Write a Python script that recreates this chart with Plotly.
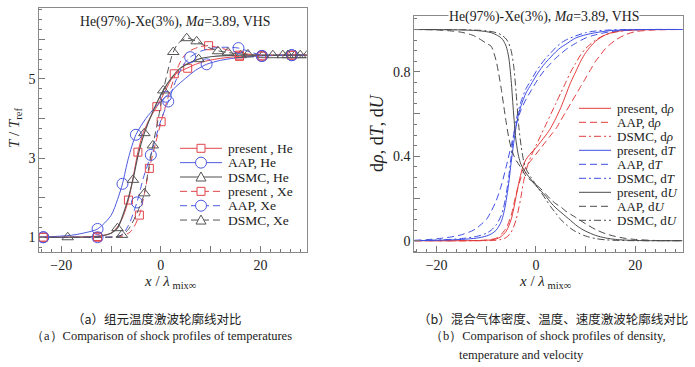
import plotly.graph_objects as go

W, H = 695, 367

# ---------------- panel (a): component temperature profiles ----------------
# smooth model curves (x / lambda_mix_inf , T / T_ref)
pres_he_x = [-24.4, -20, -15, -12.7, -10, -8.5, -7.5, -6.5, -5.5, -4.6, -3.5, -2, -0.8, 0.5, 1.5, 2.7, 4, 5.4, 7, 9, 12, 15.8, 20.3, 26.3, 29.4]
pres_he_y = [1.0, 1.0, 1.01, 1.03, 1.1, 1.3, 1.55, 1.94, 2.55, 3.15, 3.65, 4.05, 4.30, 4.6, 4.85, 5.1, 5.2, 5.28, 5.37, 5.45, 5.52, 5.57, 5.59, 5.6, 5.6]
pres_xe_x = [-24.4, -15, -12.7, -8, -6, -4.3, -3.3, -2.3, -1, 0.07, 1.5, 3, 4, 5, 6, 8, 9.6, 12, 15, 18, 20.3, 26.3, 29.4]
pres_xe_y = [1.0, 1.0, 1.0, 1.02, 1.15, 1.56, 2.1, 2.74, 3.4, 3.92, 4.55, 5.15, 5.45, 5.63, 5.72, 5.82, 5.84, 5.78, 5.68, 5.62, 5.6, 5.6, 5.6]
aap_he_x = [-24.4, -18, -15, -12.7, -10, -8.7, -7.7, -6.5, -5, -3, -1, 1, 3, 5, 7, 9.2, 12, 15, 20, 26, 29.4]
aap_he_y = [1.0, 1.05, 1.12, 1.21, 1.55, 1.95, 2.35, 3.0, 3.59, 4.0, 4.3, 4.55, 4.8, 5.02, 5.22, 5.37, 5.47, 5.53, 5.58, 5.6, 5.6]
aap_xe_x = [-24.4, -15, -12.7, -8, -6.5, -4.8, -3.5, -2, 0, 1.5, 3, 4.5, 5.9, 8, 10, 12.5, 15.6, 18, 20.3, 26.3, 29.4]
aap_xe_y = [1.0, 1.0, 1.0, 1.05, 1.3, 1.88, 2.5, 3.08, 3.95, 4.43, 4.95, 5.35, 5.55, 5.7, 5.77, 5.8, 5.78, 5.68, 5.6, 5.6, 5.6]
dsmc_he_x = [-24.4, -18.7, -12, -10, -8.7, -7.5, -6.5, -5.6, -4.5, -3.3, -1.5, 0.5, 2, 4, 6, 7.6, 10, 13, 16, 20, 29.4]
dsmc_he_y = [1.0, 1.0, 1.03, 1.1, 1.23, 1.6, 2.0, 2.45, 3.1, 3.63, 4.2, 4.71, 5.0, 5.28, 5.42, 5.5, 5.56, 5.59, 5.6, 5.6, 5.6]
dsmc_xe_x = [-24.4, -12, -9, -7.8, -6.5, -5, -4, -3.3, -2.5, -1.6, -0.5, 0.5, 1.5, 2.5, 3.5, 5.2, 7.2, 9.5, 11.2, 13.3, 16, 20, 29.4]
dsmc_xe_y = [1.0, 1.0, 1.01, 1.06, 1.2, 1.55, 1.85, 2.11, 2.7, 3.32, 4.0, 4.7, 5.25, 5.68, 5.9, 6.03, 5.95, 5.8, 5.72, 5.67, 5.63, 5.6, 5.6]

# symbols (sampled points)
pres_he_mx = [-23.6, -12.7, -6.5, -4.6, -0.8, 2.7, 5.4, 15.8, 20.3, 26.3]
pres_he_my = [1.0, 1.02, 1.94, 3.15, 4.30, 5.13, 5.27, 5.57, 5.58, 5.6]
pres_xe_mx = [-23.6, -12.7, -4.3, -2.3, 0.07, 9.6, 15.8, 20.3, 26.3]
pres_xe_my = [1.0, 1.0, 1.56, 2.74, 3.92, 5.84, 5.6, 5.58, 5.6]
aap_he_mx = [-23.6, -12.7, -7.7, -5.0, 1.0, 9.2, 20.3, 26.3]
aap_he_my = [1.0, 1.21, 2.35, 3.59, 4.55, 5.37, 5.58, 5.6]
aap_xe_mx = [-23.6, -12.7, -4.8, -2.0, 1.5, 5.9, 15.6, 20.3, 26.3]
aap_xe_my = [1.0, 1.0, 1.88, 3.08, 4.43, 5.55, 5.78, 5.58, 5.6]
dsmc_he_mx = [-18.7, -8.7, -5.6, -3.3, 0.5, 7.6, 16.0, 20.5, 24.5, 27.0, 29.4]
dsmc_he_my = [1.0, 1.23, 2.45, 3.63, 4.71, 5.5, 5.6, 5.6, 5.6, 5.6, 5.6]
dsmc_xe_mx = [-7.8, -3.3, -1.6, 2.5, 5.2, 7.2, 11.5, 13.5, 17.5, 22.5, 25.5, 28.0]
dsmc_xe_my = [1.06, 2.11, 3.32, 5.68, 6.03, 5.95, 5.7, 5.67, 5.62, 5.6, 5.6, 5.6]

# ---------------- panel (b): mixture density / temperature / velocity ----------------
drho_pres_x = [-24.5, -15, -10, -8, -7, -6, -5, -4.5, -4, -3.5, -3, -2.5, -2, -1, 0, 1, 2, 3, 4, 5, 6, 7, 8, 9, 10, 11, 12, 14, 16, 20, 29.5]
drho_pres_y = [0, 0, 0.002, 0.008, 0.02, 0.045, 0.1, 0.15, 0.21, 0.27, 0.32, 0.36, 0.385, 0.415, 0.44, 0.47, 0.5, 0.535, 0.58, 0.63, 0.69, 0.75, 0.8, 0.85, 0.89, 0.92, 0.945, 0.975, 0.99, 0.998, 1.0]
drho_aap_x = [-24.5, -15, -10, -8, -7, -6, -5, -4, -3, -2, -1, 0, 1, 2, 3, 4, 5, 6, 7, 8, 9, 10, 11, 12, 13, 14, 16, 18, 20, 24, 29.5]
drho_aap_y = [0, 0, 0.003, 0.012, 0.03, 0.06, 0.12, 0.22, 0.3, 0.35, 0.38, 0.41, 0.44, 0.47, 0.5, 0.53, 0.57, 0.61, 0.65, 0.69, 0.73, 0.77, 0.81, 0.85, 0.88, 0.91, 0.95, 0.975, 0.99, 0.998, 1.0]
drho_dsmc_x = [-24.5, -10, -8, -7, -6, -5, -4, -3.5, -3, -2.5, -2, -1.5, -1, 0, 1, 2, 3, 4, 5, 6, 7, 8, 9, 10, 12, 14, 17, 20, 29.5]
drho_dsmc_y = [0, 0, 0.002, 0.006, 0.015, 0.04, 0.1, 0.15, 0.21, 0.28, 0.33, 0.37, 0.4, 0.45, 0.5, 0.55, 0.6, 0.65, 0.7, 0.75, 0.8, 0.84, 0.88, 0.91, 0.95, 0.975, 0.992, 0.998, 1.0]
dT_pres_x = [-24.5, -20, -15, -12, -10, -9, -8, -7, -6.5, -6, -5.5, -5, -4.5, -4, -3.5, -3, -2, -1, 0, 1, 2, 3, 4, 5, 6, 8, 10, 12, 15, 18, 22, 29.5]
dT_pres_y = [0, 0.002, 0.006, 0.012, 0.022, 0.032, 0.05, 0.09, 0.13, 0.19, 0.27, 0.37, 0.46, 0.54, 0.6, 0.64, 0.7, 0.74, 0.78, 0.815, 0.845, 0.87, 0.895, 0.915, 0.93, 0.96, 0.975, 0.985, 0.995, 0.998, 1.0, 1.0]
dT_aap_x = [-24.5, -22, -20, -17, -15, -13, -12, -11, -10, -9, -8, -7, -6, -5, -4, -3, -2, -1, 0, 1, 2, 3, 4, 5, 6, 8, 10, 12, 15, 18, 22, 29.5]
dT_aap_y = [0.002, 0.005, 0.009, 0.018, 0.028, 0.045, 0.058, 0.078, 0.1, 0.14, 0.19, 0.26, 0.35, 0.45, 0.55, 0.62, 0.67, 0.71, 0.75, 0.785, 0.815, 0.84, 0.865, 0.885, 0.905, 0.935, 0.96, 0.975, 0.99, 0.997, 1.0, 1.0]
dT_dsmc_x = [-24.5, -20, -15, -12, -10, -9, -8, -7, -6.5, -6, -5.5, -5, -4.5, -4, -3.5, -3, -2, -1, 0, 1, 2, 3, 4, 5, 6, 8, 10, 12, 15, 18, 22, 29.5]
dT_dsmc_y = [0, 0.003, 0.01, 0.02, 0.035, 0.05, 0.075, 0.12, 0.16, 0.22, 0.3, 0.4, 0.5, 0.57, 0.62, 0.66, 0.72, 0.76, 0.8, 0.835, 0.865, 0.89, 0.915, 0.935, 0.95, 0.97, 0.985, 0.993, 0.998, 1.0, 1.0, 1.0]
dU_pres_x = [-24.5, -15, -12, -10, -9, -8, -7, -6.5, -6, -5.5, -5, -4.5, -4, -3.5, -3, -2, -1, 0, 1, 2, 3, 4, 5, 6, 7, 8, 9, 10, 12, 14, 16, 20, 24, 29.5]
dU_pres_y = [1.0, 0.998, 0.995, 0.99, 0.985, 0.975, 0.96, 0.945, 0.92, 0.87, 0.76, 0.6, 0.47, 0.4, 0.36, 0.32, 0.29, 0.26, 0.235, 0.21, 0.18, 0.155, 0.135, 0.115, 0.095, 0.075, 0.058, 0.045, 0.025, 0.013, 0.006, 0.001, 0, 0]
dU_aap_x = [-24.5, -20, -17, -15, -13, -12, -11, -10, -9, -8.5, -8, -7.5, -7, -6.5, -6, -5.5, -5, -4.5, -4, -3, -2, -1, 0, 1, 2, 3, 4, 5, 6, 8, 10, 12, 14, 16, 18, 20, 24, 29.5]
dU_aap_y = [1.0, 0.998, 0.993, 0.987, 0.975, 0.965, 0.95, 0.935, 0.92, 0.89, 0.85, 0.79, 0.72, 0.64, 0.56, 0.49, 0.44, 0.405, 0.38, 0.345, 0.305, 0.285, 0.265, 0.245, 0.22, 0.195, 0.175, 0.16, 0.14, 0.11, 0.08, 0.053, 0.033, 0.02, 0.011, 0.006, 0.001, 0]
dU_dsmc_x = [-24.5, -15, -12, -10, -8, -7, -6, -5.5, -5, -4.5, -4, -3.5, -3, -2.5, -2, -1, 0, 1, 2, 3, 4, 5, 6, 7, 8, 10, 12, 14, 17, 20, 29.5]
dU_dsmc_y = [1.0, 0.999, 0.997, 0.994, 0.985, 0.975, 0.955, 0.935, 0.9, 0.83, 0.7, 0.55, 0.45, 0.38, 0.34, 0.3, 0.265, 0.23, 0.195, 0.16, 0.13, 0.1, 0.078, 0.058, 0.043, 0.022, 0.01, 0.004, 0.001, 0, 0]

# tick labels
xa_tickvals = [-20, -10, 0, 10, 20]
xa_ticktext = ["\u221220", "", "0", "", "20"]
ya_tickvals = [1, 2, 3, 4, 5, 6]
ya_ticktext = ["1", "", "3", "", "5", ""]
yb_tickvals = [0, 0.2, 0.4, 0.6, 0.8, 1.0]
yb_ticktext = ["0", "", "0.4", "", "0.8", ""]

legend_a = ["present , He", "AAP, He", "DSMC, He", "present , Xe", "AAP, Xe", "DSMC, Xe"]
legend_b = ["present, d<i>ρ</i>", "AAP, d<i>ρ</i>", "DSMC, d<i>ρ</i>",
            "present, d<i>T</i>", "AAP, d<i>T</i>", "DSMC, d<i>T</i>",
            "present, d<i>U</i>", "AAP, d<i>U</i>", "DSMC, d<i>U</i>"]

# ---------------- styling ----------------
RED = "#e2454b"
BLUE = "#4d5ae0"
BLK = "#555555"
RED_B = "#e23c3c"
BLUE_B = "#3e4ee2"
BLK_B = "#4a4a4a"
SERIF = "Liberation Serif"
DASH = "7px,4px"
DASHDOT = "7px,3px,2px,3px"

fig = go.Figure()

series_a = [
    (pres_he_x, pres_he_y, pres_he_mx, pres_he_my, RED, "solid", "square-open", 8, 1.0),
    (aap_he_x, aap_he_y, aap_he_mx, aap_he_my, BLUE, "solid", "circle-open", 11, 1.0),
    (dsmc_he_x, dsmc_he_y, dsmc_he_mx, dsmc_he_my, BLK, "solid", "triangle-up-open", 10, 1.2),
    (pres_xe_x, pres_xe_y, pres_xe_mx, pres_xe_my, RED, DASH, "square-open", 8, 1.0),
    (aap_xe_x, aap_xe_y, aap_xe_mx, aap_xe_my, BLUE, DASH, "circle-open", 11, 1.0),
    (dsmc_xe_x, dsmc_xe_y, dsmc_xe_mx, dsmc_xe_my, BLK, DASH, "triangle-up-open", 10, 1.0),
]
for lx, ly, mx, my, col, dash, sym, size, lw in series_a:
    fig.add_trace(go.Scatter(x=lx, y=ly, mode="lines", xaxis="x", yaxis="y",
                             line=dict(color=col, width=lw, dash=dash, shape="spline", smoothing=0.8),
                             showlegend=False, hoverinfo="skip"))
    fig.add_trace(go.Scatter(x=mx, y=my, mode="markers", xaxis="x", yaxis="y",
                             marker=dict(symbol=sym, size=size, color=col, line=dict(width=1, color=col)),
                             showlegend=False))

series_b = [
    (drho_pres_x, drho_pres_y, RED_B, "solid"),
    (drho_aap_x, drho_aap_y, RED_B, DASH),
    (drho_dsmc_x, drho_dsmc_y, RED_B, DASHDOT),
    (dT_pres_x, dT_pres_y, BLUE_B, "solid"),
    (dT_aap_x, dT_aap_y, BLUE_B, DASH),
    (dT_dsmc_x, dT_dsmc_y, BLUE_B, DASHDOT),
    (dU_pres_x, dU_pres_y, BLK_B, "solid"),
    (dU_aap_x, dU_aap_y, BLK_B, DASH),
    (dU_dsmc_x, dU_dsmc_y, BLK_B, DASHDOT),
]
for lx, ly, col, dash in series_b:
    fig.add_trace(go.Scatter(x=lx, y=ly, mode="lines", xaxis="x2", yaxis="y2",
                             line=dict(color=col, width=1, dash=dash, shape="spline", smoothing=0.8),
                             showlegend=False))


def px(x):
    return x / W


def py(y):
    return 1 - y / H


AX = dict(showgrid=False, zeroline=False, showline=True, linecolor="#8a8a8a", linewidth=1,
          mirror=True, ticks="inside", ticklen=6, tickcolor="#777", tickwidth=1,
          tickfont=dict(family=SERIF, size=14, color="#222"))

fig.update_layout(
    width=W, height=H, margin=dict(l=0, r=0, t=0, b=0),
    paper_bgcolor="white", plot_bgcolor="white", showlegend=False,
    xaxis=dict(AX, domain=[px(39.3), px(306.7)], range=[-24.4, 29.3], anchor="y",
               tickmode="array", tickvals=xa_tickvals, ticktext=xa_ticktext,
               minor=dict(dtick=2, tick0=0, ticks="inside", ticklen=3, tickcolor="#777")),
    yaxis=dict(AX, domain=[py(252.3), py(7.7)], range=[0.62, 6.80], anchor="x",
               tickmode="array", tickvals=ya_tickvals, ticktext=ya_ticktext,
               minor=dict(dtick=0.25, tick0=0, ticks="inside", ticklen=3, tickcolor="#777")),
    xaxis2=dict(AX, domain=[px(414.3), px(682.5)], range=[-24.5, 29.5], anchor="y2",
                tickmode="array", tickvals=xa_tickvals, ticktext=xa_ticktext,
                minor=dict(dtick=2, tick0=0, ticks="inside", ticklen=3, tickcolor="#777")),
    yaxis2=dict(AX, domain=[py(252.3), py(16)], range=[-0.055, 1.064], anchor="x2",
                tickmode="array", tickvals=yb_tickvals, ticktext=yb_ticktext,
                minor=dict(dtick=0.05, tick0=0, ticks="inside", ticklen=3, tickcolor="#777")),
)

ann = []
shapes = []
TXT = dict(family=SERIF, size=14, color="#222")


def note(x, y, text, font, xanchor="center", **kw):
    d = dict(x=px(x), y=py(y), xref="paper", yref="paper", showarrow=False,
             xanchor=xanchor, yanchor="middle", text=text, font=font)
    d.update(kw)
    ann.append(d)


# titles inside panels
note(175, 21.5, "He(97%)\u2011Xe(3%), <i>Ma</i>=3.89, VHS", dict(TXT, size=13.8))
note(544, 16.5, "He(97%)\u2011Xe(3%), <i>Ma</i>=3.89, VHS", dict(TXT, size=13.8),
     bgcolor="white", borderpad=0)

# axis titles
note(15, 128, "<i>T</i> / <i>T</i><sub>ref</sub>", dict(TXT, size=15), textangle=-90)
note(170, 282, "<i>x</i> / <i>λ</i><sub> mix∞</sub>", dict(TXT, size=15))
note(377, 133, "d<i>ρ</i>, d<i>T</i>, d<i>U</i>", dict(TXT, size=18), textangle=-90)
note(545, 282, "<i>x</i> / <i>λ</i><sub> mix∞</sub>", dict(TXT, size=15))

# ---- manual legend, panel (a) ----
leg_a_style = [(RED, "solid", "sq"), (BLUE, "solid", "ci"), ("#8a8a8a", "solid", "tr"),
               (RED, "dash", "sq"), (BLUE, "dash", "ci"), (BLK, "dash", "tr")]
for i, (label, (col, dash, mk)) in enumerate(zip(legend_a, leg_a_style)):
    yy = 148.3 + 14.35 * i
    shapes.append(dict(type="line", xref="paper", yref="paper", x0=px(180), x1=px(222),
                       y0=py(yy), y1=py(yy),
                       line=dict(color=col, width=1.6 if (mk == "tr" and dash == "solid") else 1,
                                 dash=DASH if dash == "dash" else "solid")))
    cx = 201
    if mk == "sq":
        shapes.append(dict(type="rect", xref="paper", yref="paper", x0=px(cx - 4), x1=px(cx + 4),
                           y0=py(yy - 4), y1=py(yy + 4), line=dict(color=col, width=1), fillcolor="white"))
    elif mk == "ci":
        shapes.append(dict(type="circle", xref="paper", yref="paper", x0=px(cx - 5.5), x1=px(cx + 5.5),
                           y0=py(yy - 5.5), y1=py(yy + 5.5), line=dict(color=col, width=1), fillcolor="white"))
    else:
        path = "M {:.5f},{:.5f} L {:.5f},{:.5f} L {:.5f},{:.5f} Z".format(
            px(cx), py(yy - 5), px(cx - 5), py(yy + 4), px(cx + 5), py(yy + 4))
        shapes.append(dict(type="path", xref="paper", yref="paper", path=path,
                           line=dict(color="#555", width=1), fillcolor="white"))
    note(226, yy, label, dict(TXT, size=13.5), xanchor="left")

# ---- manual legend, panel (b) ----
leg_b_style = [(RED_B, "solid"), (RED_B, DASH), (RED_B, DASHDOT),
               (BLUE_B, "solid"), (BLUE_B, DASH), (BLUE_B, DASHDOT),
               (BLK_B, "solid"), (BLK_B, DASH), (BLK_B, DASHDOT)]
for i, (label, (col, dash)) in enumerate(zip(legend_b, leg_b_style)):
    yy = 108.3 + 14.0 * i
    shapes.append(dict(type="line", xref="paper", yref="paper", x0=px(579), x1=px(611),
                       y0=py(yy), y1=py(yy), line=dict(color=col, width=1, dash=dash)))
    note(615, yy, label, dict(TXT, size=13), xanchor="left")

# ---- captions ----
CAP_CN = dict(family="Noto Sans CJK SC", size=12.5, color="#222")
CAP_EN = dict(family=SERIF, size=12.5, color="#222")
note(157, 318, "（a）组元温度激波轮廓线对比", CAP_CN)
note(161, 336, "（a）Comparison of shock profiles of temperatures", CAP_EN)
note(553, 318, "（b）混合气体密度、温度、速度激波轮廓线对比", CAP_CN)
note(548, 336, "（b）Comparison of shock profiles of density,", CAP_EN)
note(457, 355, "temperature and velocity", CAP_EN, xanchor="left")

fig.update_layout(annotations=ann, shapes=shapes)
fig.write_html("out.html", config={"displayModeBar": False},
               post_script="document.body.style.margin='0';document.body.style.padding='0';"
                           "document.body.style.overflow='hidden';")
